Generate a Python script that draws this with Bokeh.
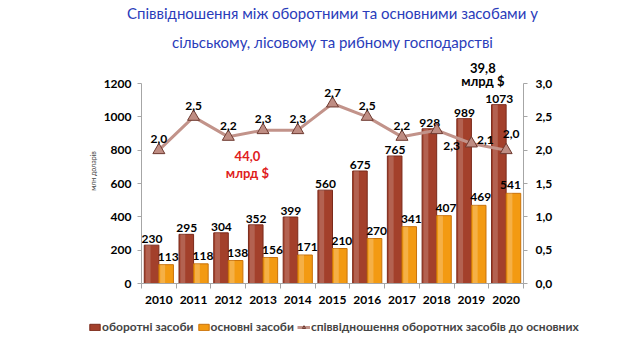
from bokeh.plotting import figure
from bokeh.models import (ColumnDataSource, Range1d, LinearAxis, FixedTicker,
                          CustomJSTickFormatter, Label, Legend, LegendItem, Title)
from bokeh.transform import dodge
from bokeh.core.properties import value
from bokeh.embed import file_html
from bokeh.resources import INLINE

years = [2010, 2011, 2012, 2013, 2014, 2015, 2016, 2017, 2018, 2019, 2020]
current_assets = [230, 295, 304, 352, 399, 560, 675, 765, 928, 989, 1073]
fixed_assets = [113, 118, 138, 156, 171, 210, 270, 341, 407, 469, 541]
ratio = [2.0, 2.5, 2.2, 2.3, 2.3, 2.7, 2.5, 2.2, 2.3, 2.1, 2.0]
left_ticks = [0, 200, 400, 600, 800, 1000, 1200]
right_ticks = [0.0, 0.5, 1.0, 1.5, 2.0, 2.5, 3.0]

title_lines = ["Співвідношення між оборотними та основними засобами у",
               "сільському, лісовому та рибному господарстві"]
series_names = ["оборотні засоби", "основні засоби",
                "співвідношення оборотних засобів до основних"]
y_label = "млн доларів"
note_2013 = ["44,0", "млрд $"]
note_2020 = ["39,8", "млрд $"]

FONT = "Lato"
BROWN, BROWN_LINE = "#a3402b", "#7b2a1b"
ORANGE, ORANGE_LINE = "#f39a12", "#c9720a"
LINE_C, TRI_FILL, TRI_LINE = "#c2938a", "#bf8d83", "#6e3a30"

ratio_txt = [f"{r:.1f}".replace('.', ',') for r in ratio]
# label offsets (px) for ratio labels
rx_off = [0] * len(years)
ry_off = [-7] * len(years)
rx_off[8], ry_off[8] = 15, 20
rx_off[9], ry_off[9] = 14, 0
rx_off[10], ry_off[10] = 5, -12
# label offsets (px) for the fixed-asset bar labels
fx_off = [0] * len(years)
fx_off[10] = -5

src = ColumnDataSource(dict(year=years, cur=current_assets, fix=fixed_assets,
                            cur_t=[str(v) for v in current_assets],
                            fix_t=[str(v) for v in fixed_assets],
                            ratio=ratio, ratio_t=ratio_txt, rxo=rx_off, ryo=ry_off,
                            fxo=fx_off))

YMAX = 1200
RMAX = 3.0
EXT = 1.125  # frame extends a little above the top tick

p = figure(width=624, height=313, x_range=Range1d(years[0] - 0.5, years[-1] + 0.5),
           y_range=Range1d(0, YMAX * EXT), output_backend="svg", toolbar_location=None,
           x_axis_location=None, y_axis_location=None,
           min_border_left=141, min_border_right=101, min_border_top=58, min_border_bottom=30)
p.outline_line_color = None
p.xgrid.visible = False
p.ygrid.visible = False
p.background_fill_color = "white"
p.extra_y_ranges = {"ratio": Range1d(0, RMAX * EXT)}

def style_axis(ax):
    ax.axis_line_color = "#a6a6a6"
    ax.major_tick_line_color = "#a6a6a6"
    ax.major_tick_out = 4
    ax.major_tick_in = 0
    ax.minor_tick_line_color = None
    ax.major_label_text_font = FONT
    ax.major_label_text_font_style = "bold"
    ax.major_label_text_font_size = "12px"
    ax.major_label_text_color = "black"

yl = LinearAxis(ticker=FixedTicker(ticks=left_ticks), bounds=(0, YMAX))
style_axis(yl)
yl.major_label_standoff = 6
yl.axis_label = y_label
yl.axis_label_text_font = FONT
yl.axis_label_text_font_size = "7px"
yl.axis_label_text_font_style = "normal"
yl.axis_label_standoff = 4
p.add_layout(yl, "left")

yr = LinearAxis(y_range_name="ratio", ticker=FixedTicker(ticks=right_ticks), bounds=(0, RMAX),
                formatter=CustomJSTickFormatter(code="return tick.toFixed(1).replace('.', ',');"))
style_axis(yr)
yr.major_label_standoff = 8
p.add_layout(yr, "right")

xa = LinearAxis(ticker=FixedTicker(ticks=years, minor_ticks=[y - 0.5 for y in years] + [years[-1] + 0.5]),
                formatter=CustomJSTickFormatter(code="return tick.toFixed(0);"))
style_axis(xa)
xa.major_tick_line_color = None
xa.major_tick_out = 0
xa.minor_tick_line_color = "#a6a6a6"
xa.minor_tick_out = 5
xa.minor_tick_in = 0
xa.major_label_standoff = 7
p.add_layout(xa, "below")

p.vbar(x=dodge('year', -0.21), top='cur', width=0.42, source=src,
       fill_color=BROWN, line_color=BROWN_LINE, line_width=1)
p.vbar(x=dodge('year', 0.21), top='fix', width=0.42, source=src,
       fill_color=ORANGE, line_color=ORANGE_LINE, line_width=1)
# light sheen on bars
p.vbar(x=dodge('year', -0.31), top='cur', width=0.14, source=src,
       fill_color="white", fill_alpha=0.18, line_color=None)
p.vbar(x=dodge('year', 0.11), top='fix', width=0.14, source=src,
       fill_color="white", fill_alpha=0.22, line_color=None)

p.text(x=dodge('year', -0.2), y='cur', text='cur_t', source=src,
       text_align="center", text_baseline="bottom", y_offset=-2,
       text_font=value(FONT), text_font_style="bold", text_font_size="12px", text_color="black")
p.text(x=dodge('year', 0.27), y='fix', text='fix_t', source=src, x_offset='fxo',
       text_align="center", text_baseline="bottom", y_offset=-4,
       text_font=value(FONT), text_font_style="bold", text_font_size="12px", text_color="black")

p.line(x='year', y='ratio', source=src, y_range_name="ratio", line_color=LINE_C, line_width=3)
p.scatter(x='year', y='ratio', source=src, y_range_name="ratio", marker="triangle",
          size=12, fill_color=TRI_FILL, line_color=TRI_LINE, line_width=1)
p.text(x='year', y='ratio', text='ratio_t', source=src, y_range_name="ratio",
       x_offset='rxo', y_offset='ryo', text_align="center", text_baseline="bottom",
       text_font=value(FONT), text_font_style="bold", text_font_size="12px", text_color="black")

# title (two lines; the one added later sits higher)
p.add_layout(Title(text=title_lines[1], align="center", offset=6, standoff=16,
                   text_font=FONT, text_font_size="15px", text_font_style="normal",
                   text_color="#2a3cba"), "above")
p.add_layout(Title(text=title_lines[0], align="center", offset=6, standoff=2,
                   text_font=FONT, text_font_size="15px", text_font_style="normal",
                   text_color="#2a3cba"), "above")

x0 = years[0] - 0.5
for i, t in enumerate(note_2013):
    p.add_layout(Label(x=x0 + 3.05, y=768 - i * 102, text=t, text_align="center",
                       text_baseline="middle", text_font=FONT, text_font_style="bold",
                       text_font_size="13px", text_color="#e0201c"))
for i, t in enumerate(note_2020):
    p.add_layout(Label(x=x0 + 9.83, y=1296 - i * 80, text=t, text_align="center",
                       text_baseline="middle", text_font=FONT, text_font_style="bold",
                       text_font_size="13px", text_color="black"))

# legend strip (separate small figure beneath the chart; its renderers lie outside its view)
lg = figure(width=624, height=31, x_range=Range1d(0, 1), y_range=Range1d(0, 1),
            output_backend="svg", toolbar_location=None, x_axis_location=None,
            y_axis_location=None, min_border=0)
lg.outline_line_color = None
lg.xgrid.visible = False
lg.ygrid.visible = False
e_cur = lg.vbar(x='year', top='cur', width=0.4, source=src, fill_color=BROWN, line_color=BROWN_LINE)
e_fix = lg.vbar(x='year', top='fix', width=0.4, source=src, fill_color=ORANGE, line_color=ORANGE_LINE)
e_line = lg.line(x='year', y='ratio', source=src, line_color=LINE_C, line_width=3)
e_tri = lg.scatter(x='year', y='ratio', source=src, marker="triangle", size=9,
                   fill_color=TRI_FILL, line_color=TRI_LINE)
legend = Legend(items=[LegendItem(label=series_names[0], renderers=[e_cur]),
                       LegendItem(label=series_names[1], renderers=[e_fix]),
                       LegendItem(label=series_names[2], renderers=[e_line, e_tri])],
                orientation="horizontal", location=(88, 10), padding=0, margin=0,
                spacing=3, label_standoff=1, glyph_width=13, glyph_height=8,
                label_text_font=FONT, label_text_font_style="bold",
                label_text_font_size="12px", label_height=12,
                border_line_color=None, background_fill_alpha=0)
lg.add_layout(legend, "center")

open("out.html", "w").write(file_html([p, lg], INLINE))
